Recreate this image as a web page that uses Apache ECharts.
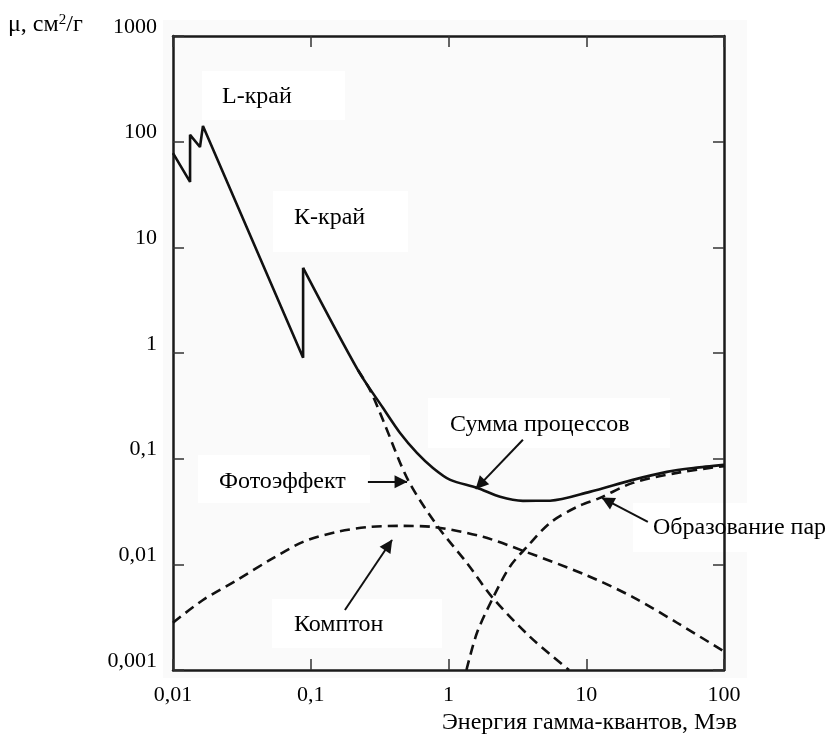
<!DOCTYPE html>
<html>
<head>
<meta charset="utf-8">
<script src="https://cdn.jsdelivr.net/npm/echarts@6/dist/echarts.min.js"></script>
<style>
  html, body { margin: 0; padding: 0; background: #fff; }
  #chart { width: 829px; height: 735px; }
</style>
</head>
<body>
<div id="chart"></div>
<script>
// Tick values and their printed labels (comma decimals)
const energyTicks = [0.01, 0.1, 1, 10, 100];
const energyTickLabels = ['0,01', '0,1', '1', '10', '100'];
const muTicks = [0.001, 0.01, 0.1, 1, 10, 100, 1000];
const muTickLabels = ['0,001', '0,01', '0,1', '1', '10', '100', '1000'];

// Mass attenuation coefficient of lead, cm^2/g, vs gamma energy, MeV
const totalAttenuation = [
  [0.01, 78], [0.0133, 41.6], [0.0133, 116], [0.0157, 89], [0.0165, 141],
  [0.088, 0.9], [0.088, 6.4], [0.22, 0.69], [0.334, 0.303], [0.445, 0.175],
  [0.59, 0.1135], [0.771, 0.0818], [1.03, 0.063], [1.61, 0.053], [2.37, 0.0435],
  [3.47, 0.0399], [5.46, 0.04], [10.6, 0.0485], [21.8, 0.063], [38.5, 0.075],
  [61.6, 0.0818], [100, 0.0873]
];
const photoEffect = [
  [0.22, 0.69], [0.269, 0.448], [0.334, 0.233], [0.508, 0.063], [0.84, 0.0226],
  [1.36, 0.0103], [2.1, 0.0048], [3.91, 0.00206], [7.5, 0.001]
];
const comptonScattering = [
  [0.01, 0.0028], [0.0165, 0.0046], [0.0292, 0.0071], [0.0506, 0.011], [0.088, 0.0163],
  [0.155, 0.0203], [0.269, 0.0226], [0.45, 0.0231], [0.77, 0.0226], [1.78, 0.0182],
  [3.6, 0.0132], [10, 0.0079], [21.8, 0.0049], [45.6, 0.0028], [100, 0.0015]
];
const pairProduction = [
  [1.35, 0.001], [1.61, 0.00225], [2.1, 0.0048], [2.79, 0.0095], [3.72, 0.0147],
  [5.46, 0.0247], [8.57, 0.035], [12.6, 0.0426], [21.8, 0.059], [45.6, 0.0734], [100, 0.085]
];

// Pointer arrows: [from, to] in data units
const pointerArrows = [
  [[3.47, 0.151], [1.58, 0.0518]],
  [[0.26, 0.0604], [0.5, 0.0604]],
  [[0.177, 0.0037], [0.389, 0.017]],
  [[28, 0.0252], [13, 0.0426]]
];

const FONT = '"Liberation Serif", "Times New Roman", serif';
const INK = '#111';

// The absorption-edge part of the total curve is drawn with straight segments,
// the smooth part above the K edge with a spline.
const K_EDGE_TOP = 6;
const totalEdges = totalAttenuation.slice(0, K_EDGE_TOP + 1);
const totalSmooth = totalAttenuation.slice(K_EDGE_TOP);

function tickLabel(ticks, labels) {
  return function (v) {
    for (let i = 0; i < ticks.length; i++) {
      if (Math.abs(Math.log10(v) - Math.log10(ticks[i])) < 1e-6) return labels[i];
    }
    return '';
  };
}

function logAxis(min, max, position, showLabels, labelCfg) {
  return {
    type: 'log', logBase: 10, min: min, max: max, position: position,
    axisLine: { show: true, onZero: false, lineStyle: { color: '#1a1a1a', width: 2.5 } },
    axisTick: { show: true, inside: true, length: 11, lineStyle: { color: '#333', width: 1.5 } },
    minorTick: { show: false },
    splitLine: { show: false },
    axisLabel: Object.assign({ show: showLabels, fontFamily: FONT, fontSize: 22, color: '#000' }, labelCfg || {})
  };
}

const solid = { color: INK, width: 2.6 };
const dashed = { type: [10, 6], width: 2.6, color: INK };

function textEl(text, x, y, size) {
  return {
    type: 'text', x: x, y: y, z: 10,
    style: { text: text, fontFamily: FONT, fontSize: size, fill: '#000', verticalAlign: 'middle', align: 'left' }
  };
}
function boxEl(x, y, w, h) {
  return { type: 'rect', z: -5, shape: { x: x, y: y, width: w, height: h }, style: { fill: '#ffffff' } };
}

const chart = echarts.init(document.getElementById('chart'), null, { renderer: 'canvas' });
chart.setOption({
  animation: false,
  backgroundColor: '#fff',
  grid: { left: 173, top: 36, right: 105, bottom: 65 },
  xAxis: [
    logAxis(0.01, 100, 'bottom', true, { margin: 14, formatter: tickLabel(energyTicks, energyTickLabels) }),
    logAxis(0.01, 100, 'top', false)
  ],
  yAxis: [
    logAxis(0.001, 1000, 'left', true, {
      margin: 16, verticalAlign: 'bottom', lineHeight: 18,
      formatter: tickLabel(muTicks, muTickLabels)
    }),
    logAxis(0.001, 1000, 'right', false)
  ],
  graphic: [
    { type: 'rect', z: -10, shape: { x: 163, y: 20, width: 584, height: 658 }, style: { fill: '#fafafa' } },
    boxEl(202, 71, 143, 49),
    boxEl(273, 191, 135, 61),
    boxEl(428, 398, 242, 50),
    boxEl(198, 455, 172, 48),
    boxEl(272, 599, 170, 49),
    boxEl(633, 503, 196, 49),
    textEl('L-край', 222, 97, 24),
    textEl('К-край', 294, 218, 24),
    textEl('Сумма процессов', 450, 425, 24),
    textEl('Фотоэффект', 219, 482, 24),
    textEl('Комптон', 294, 625, 24),
    textEl('Образование пар', 653, 528, 24),
    textEl('Энергия гамма-квантов, Мэв', 442, 723, 24),
    {
      type: 'text', x: 8, y: 25, z: 10,
      style: {
        text: 'μ, см{s|2}/г', fontFamily: FONT, fontSize: 24, fill: '#000', verticalAlign: 'middle',
        rich: { s: { fontFamily: FONT, fontSize: 15, verticalAlign: 'top', fill: '#000' } }
      }
    }
  ],
  series: [
    {
      name: 'Сумма процессов', type: 'line', data: totalEdges, showSymbol: false,
      lineStyle: solid, z: 4,
      markLine: {
        silent: true, symbol: ['none', 'triangle'], symbolSize: 13,
        symbolOffset: [[0, 0], [0, 6]],
        label: { show: false },
        itemStyle: { color: INK },
        lineStyle: { color: INK, width: 2, type: 'solid' },
        emphasis: { disabled: true },
        data: pointerArrows.map(a => [{ coord: a[0] }, { coord: a[1] }])
      }
    },
    { name: 'Сумма процессов', type: 'line', data: totalSmooth, showSymbol: false, smooth: 0.3, lineStyle: solid, z: 4 },
    { name: 'Фотоэффект', type: 'line', data: photoEffect, showSymbol: false, smooth: 0.3, lineStyle: dashed, z: 3 },
    { name: 'Комптон', type: 'line', data: comptonScattering, showSymbol: false, smooth: 0.3, lineStyle: dashed, z: 3 },
    { name: 'Образование пар', type: 'line', data: pairProduction, showSymbol: false, smooth: 0.3, lineStyle: dashed, z: 3 }
  ]
});
</script>
</body>
</html>
